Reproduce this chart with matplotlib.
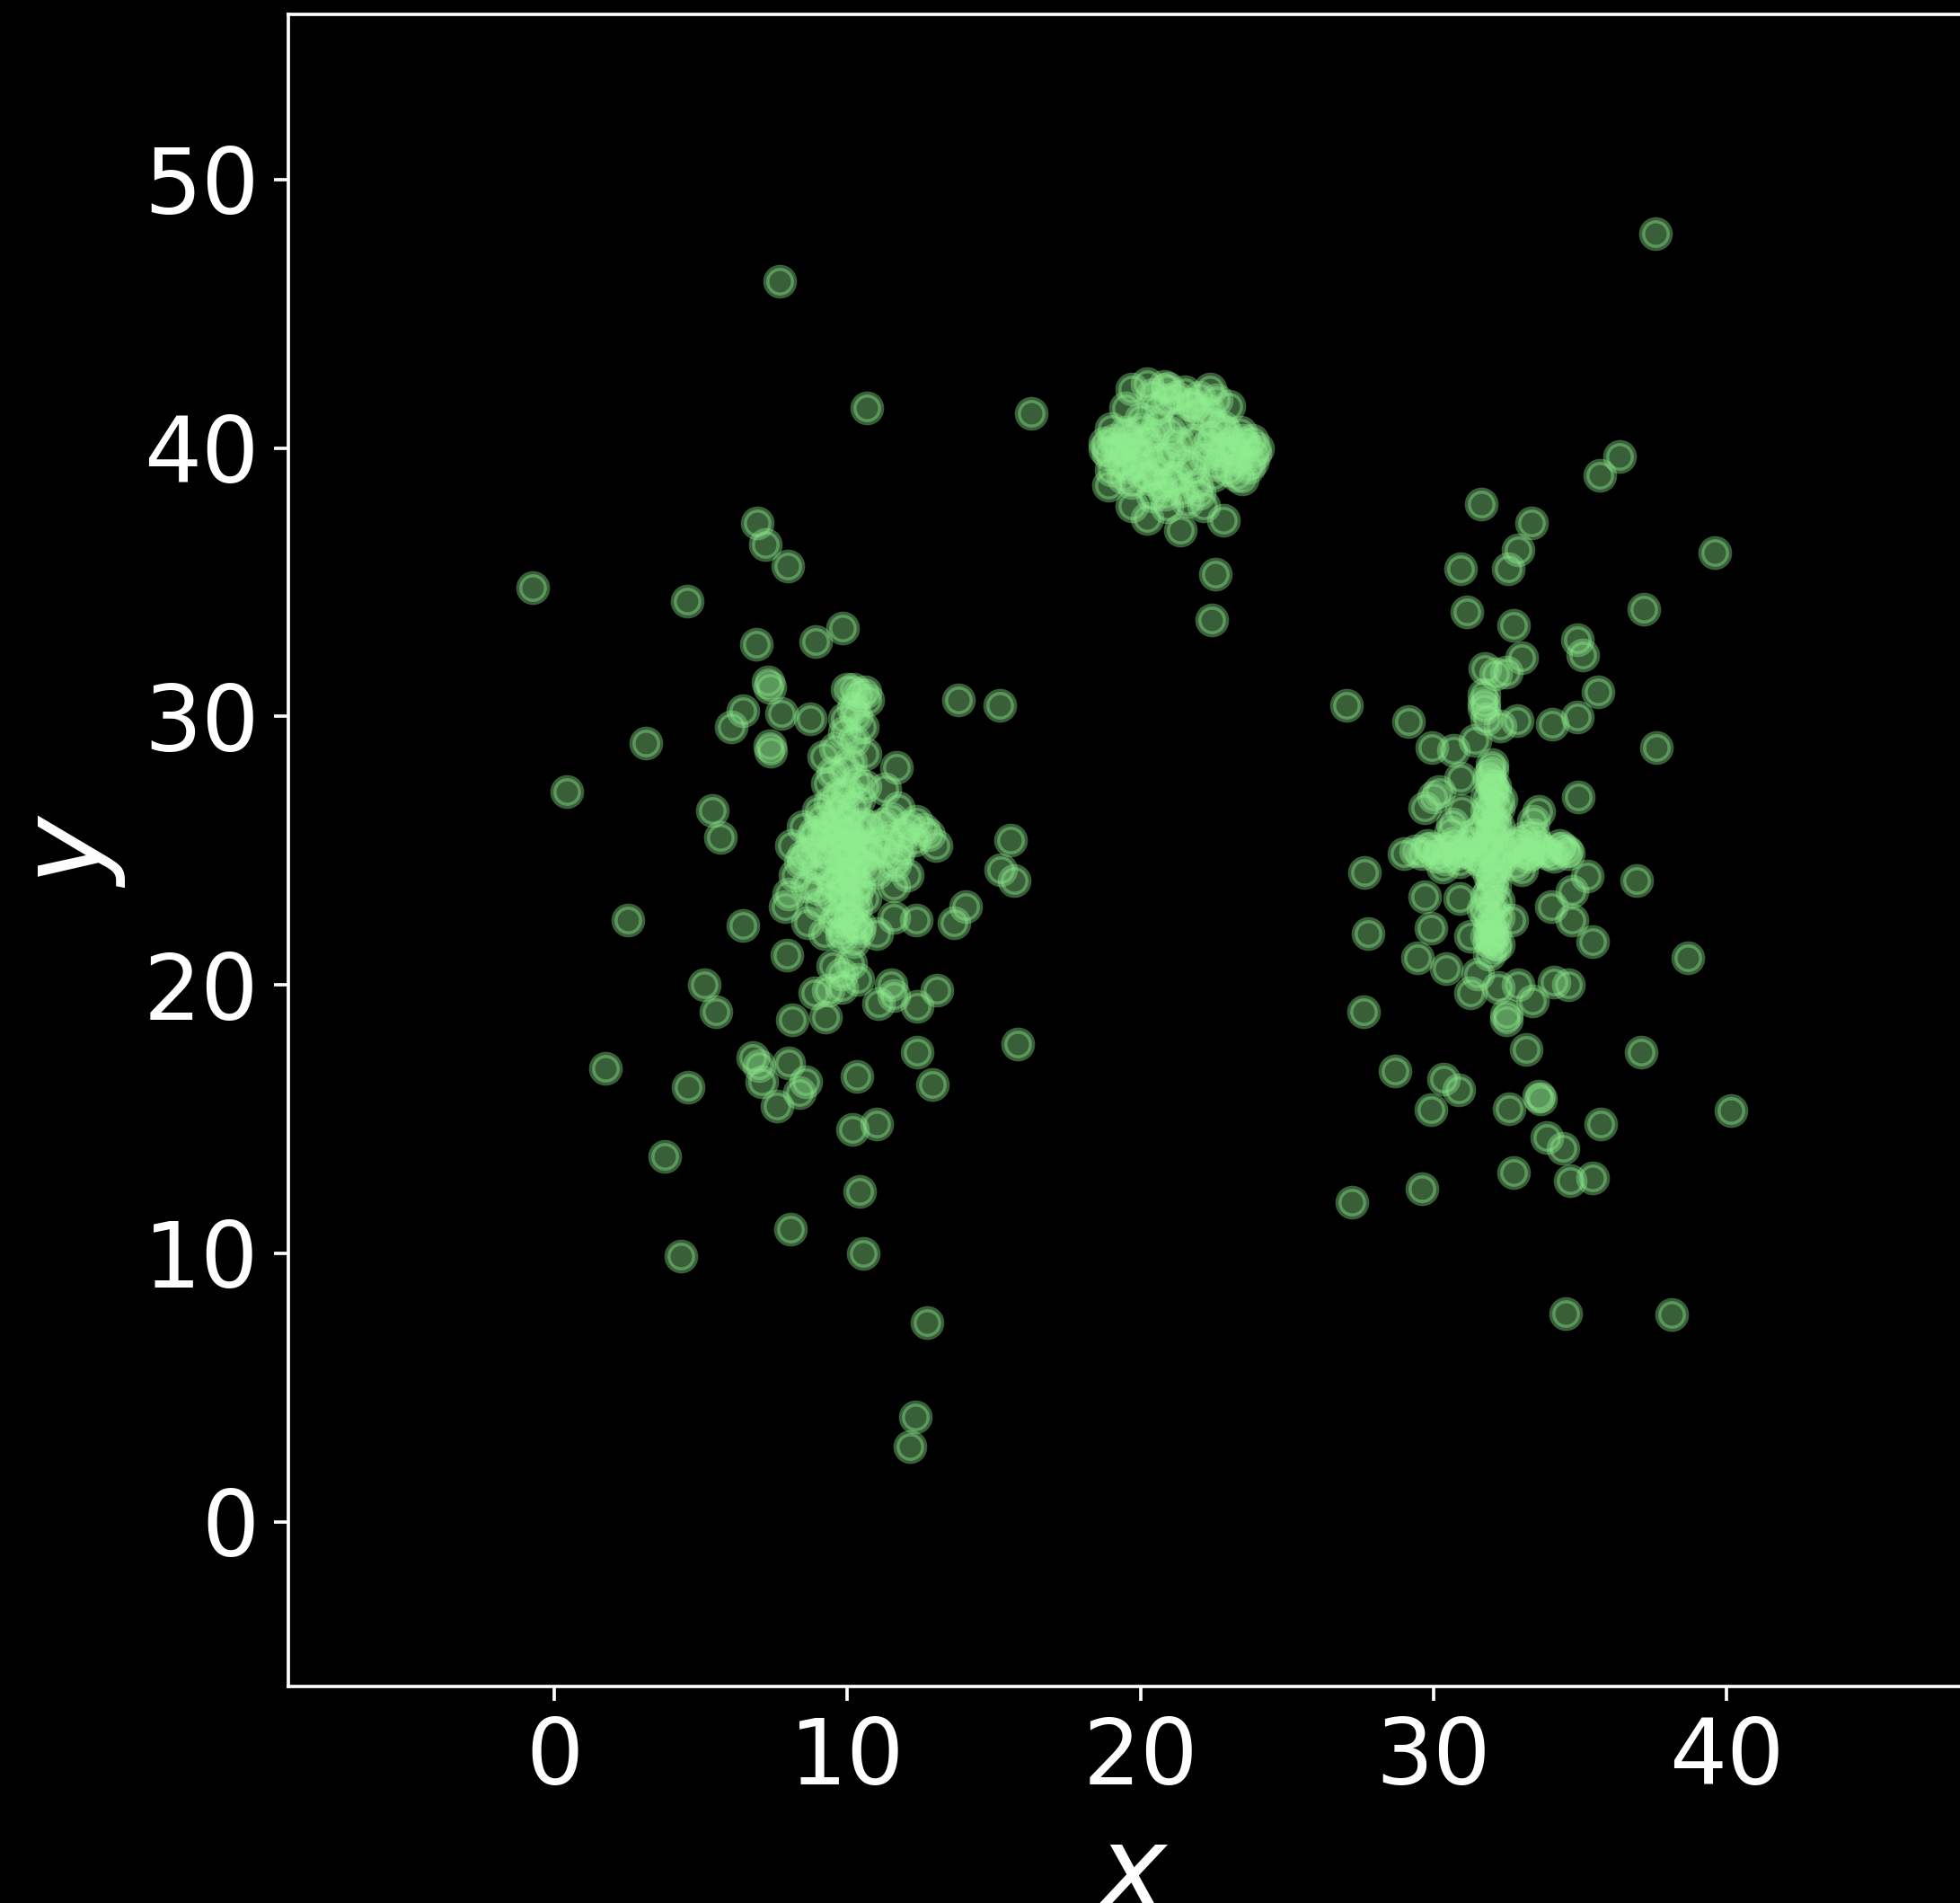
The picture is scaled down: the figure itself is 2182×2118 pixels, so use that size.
import numpy as np
import matplotlib.pyplot as plt

# left group (centre near x=10, y=25)
left_x = [-0.73, 0.43, 1.75, 2.52, 3.12, 3.76, 4.31, 4.52, 4.57, 5.12, 5.38, 5.5, 5.68,
          6.02, 6.44, 6.44, 6.78, 6.91, 6.89, 7.0, 7.07, 7.21, 7.3, 7.36, 7.35, 7.38,
          7.6, 7.68, 7.76, 7.94, 7.98, 8.07, 8.0, 8.13, 8.59, 8.36, 8.73, 8.93, 9.26,
          9.84, 10.33, 10.18, 11.0, 10.43, 10.67, 10.53, 11.06, 11.58, 11.68, 12.38,
          12.38, 12.31, 12.14, 12.73, 12.9, 13.05, 13.02, 12.35, 13.64, 13.8, 14.04,
          15.2, 15.22, 15.58, 15.7, 15.81, 16.26, 7.86, 11.5, 11.58, 11.28, 11.74,
          12.35, 12.77, 12.05, 11.58, 8.65, 9.23, 10.43, 11.0, 8.89, 9.35, 9.8, 10.35,
          9.5, 10.1, 9.8]
left_y = [34.8, 27.2, 16.9, 22.4, 29.0, 13.6, 9.9, 34.3, 16.2, 20.0, 26.5, 19.0, 25.5,
          29.6, 22.2, 30.2, 17.3, 37.2, 32.7, 17.0, 16.4, 36.4, 31.3, 31.1, 28.9, 28.7,
          15.5, 46.2, 30.1, 21.1, 35.6, 10.9, 17.1, 18.7, 16.4, 16.0, 29.9, 32.8, 18.8,
          33.3, 16.6, 14.6, 14.8, 12.3, 41.5, 10.0, 19.3, 19.6, 28.1, 19.2,
          17.5, 3.9, 2.8, 7.4, 16.3, 19.8, 25.2, 22.4, 22.3, 30.6, 22.9,
          30.4, 24.3, 25.4, 23.9, 17.8, 41.3, 22.9, 20.0, 22.5, 27.3, 26.6,
          26.1, 25.6, 24.1, 23.7, 22.3, 21.9, 22.2, 21.9, 19.7, 19.8, 19.9, 20.2,
          20.7, 20.8, 20.4]
left_core_x = [10.0, 10.4, 10.7, 10.2, 9.9, 10.5, 10.2, 9.6, 10.6, 9.2, 9.9, 10.3, 9.3,
               9.7, 10.4, 9.0, 9.6, 10.0, 9.8, 10.2, 9.9, 10.1, 10.3, 9.9, 10.2, 10.4,
               9.8, 10.0, 10.3, 10.1, 10.2, 9.8, 9.5, 9.3, 10.6, 10.5, 9.7, 10.7, 9.4,
               8.1, 8.5, 8.8, 9.1, 10.9, 11.3, 11.7, 11.9, 12.3, 12.6, 11.2, 11.5, 8.2,
               8.0, 8.6, 9.0, 8.4,
               9.6, 10.0, 10.4, 9.2, 8.9, 9.5, 10.6, 10.8, 9.1, 10.2, 9.7, 10.5, 9.0,
               10.0, 9.6, 10.4, 10.2, 9.8, 9.3, 8.7, 11.0, 11.4, 11.8, 12.1, 11.6, 9.4,
               10.0, 9.8, 10.6, 9.5, 10.1, 9.9, 10.3, 10.6, 10.2, 9.9, 10.3, 9.7, 10.8,
               9.3, 8.5, 8.9, 10.1, 9.8, 10.4]
left_core_y = [31.0, 30.8, 30.6, 30.3, 29.9, 29.6, 29.1, 28.8, 28.6, 28.5, 28.0, 27.6, 27.5,
               27.1, 26.9, 26.5, 26.4, 26.1, 25.7, 25.5, 25.2, 24.9, 24.6, 24.3, 24.0, 23.7,
               23.5, 23.2, 22.9, 22.6, 22.2, 22.0, 25.4, 24.8, 25.1, 26.0, 24.0, 24.3, 23.2,
               25.2, 24.8, 25.5, 25.0, 25.3, 25.0, 24.8, 25.6, 25.4, 25.8, 26.0, 26.2, 24.1,
               23.4, 23.7, 23.6, 24.6,
               26.0, 25.6, 25.8, 25.6, 24.4, 23.8, 23.2, 25.9, 26.2, 26.6, 25.1, 24.6, 23.0,
               22.5, 22.4, 22.0, 21.6, 21.8, 24.2, 25.0, 24.2, 25.5, 25.1, 25.9, 24.5, 26.8,
               27.2, 26.6, 27.4, 27.9, 28.3, 29.4, 30.0, 30.9, 31.0, 23.9, 23.4, 22.7, 24.9,
               25.9, 25.9, 25.7, 24.2, 24.7, 25.2]

# right group (centre near x=32, y=25)
right_x = [27.04, 27.2, 27.63, 27.6, 27.77, 28.69, 29.0, 29.16, 29.46, 29.6, 29.91, 29.95,
           29.91, 29.7, 30.34, 30.44, 30.85, 30.69, 30.93, 31.15, 31.26, 31.64, 31.75,
           32.13, 32.49, 31.72, 31.72, 31.72, 31.82, 32.28, 32.85, 32.56, 32.9, 33.0,
           32.74, 33.33, 32.5, 32.5, 32.2, 32.9, 33.36, 33.15, 32.74, 32.59, 33.6, 33.65,
           33.87, 34.06, 34.1, 34.6, 34.43, 34.52, 34.67, 35.44, 34.92, 35.09, 34.9,
           34.94, 35.25, 35.44, 34.73, 35.62, 35.68, 35.7, 36.36, 36.93, 37.09, 37.19,
           37.6, 37.56, 38.14, 38.67, 39.6, 40.15, 30.9, 31.26, 30.93, 31.42, 30.19,
           30.0, 29.7, 33.6, 33.4, 30.96, 30.65, 34.53, 34.02, 34.73, 32.68, 31.9, 31.5]
right_y = [30.4, 11.9, 24.2, 19.0, 21.9, 16.8, 24.9, 29.8, 21.0, 12.4, 15.35, 28.85,
           22.1, 23.3, 16.5, 20.6, 16.1, 28.74, 35.5, 33.9, 19.7, 37.9, 31.8,
           31.6, 31.65, 30.8, 30.5, 30.3, 29.9, 29.65, 29.86, 35.5, 36.2, 32.2,
           33.4, 37.2, 18.7, 18.9, 19.9, 20.0, 19.4, 17.6, 13.0, 15.4, 15.85, 15.75,
           14.3, 29.7, 20.1, 20.0, 13.9, 7.76, 12.7, 12.8, 32.85, 32.3, 29.99,
           27.0, 24.05, 21.6, 22.4, 30.9, 39.0, 14.8, 39.7, 23.9, 17.5, 34.0,
           28.85, 48.0, 7.73, 21.0, 36.1, 15.3, 23.2, 21.8, 27.7, 29.1, 27.2,
           27.0, 26.6, 26.45, 26.1, 26.5, 26.0, 25.0, 22.9, 23.5, 22.4, 21.15, 20.4]
right_core_x = [32.0, 31.9, 32.1, 31.8, 32.2, 31.9, 32.0, 32.1, 31.8, 32.0, 32.2, 31.9,
                32.1, 31.8, 32.0, 32.2, 31.9, 32.0, 32.1, 31.7,
                29.4, 29.8, 30.1, 30.5, 30.8, 31.2, 31.5, 32.5, 32.9, 33.2, 33.6, 33.9,
                34.3, 34.6, 30.3, 33.0, 33.4, 30.6,
                32.0, 31.9, 32.1, 32.0, 31.8, 32.1, 31.9, 32.2, 31.7, 32.1, 32.0, 31.9,
                32.2, 31.8, 32.0, 32.1, 31.9, 32.2, 31.8, 32.0, 32.3, 31.7,
                29.6, 29.9, 30.2, 30.4, 30.7, 31.0, 31.3, 31.6, 32.4, 32.7, 33.0, 33.3,
                33.5, 33.8, 34.1, 34.4, 30.9, 33.1, 31.4, 32.8]
right_core_y = [28.2, 27.8, 27.4, 27.0, 26.6, 26.3, 25.9, 25.5, 25.2, 24.8, 24.5, 24.1,
                23.7, 23.3, 22.9, 22.5, 22.1, 21.7, 21.4, 22.8,
                25.0, 25.2, 24.8, 25.1, 24.9, 25.3, 24.7, 25.0, 25.3, 24.8, 25.1, 24.9,
                25.2, 24.9, 24.4, 24.3, 25.6, 25.7,
                28.0, 27.6, 27.2, 26.8, 26.5, 26.1, 25.7, 25.9, 24.5, 24.3, 23.9, 23.5,
                23.1, 22.6, 22.3, 21.9, 21.6, 21.5, 21.8, 27.4, 26.9, 25.9,
                24.9, 25.1, 25.0, 24.7, 25.3, 25.0, 24.9, 25.1, 24.8, 25.2, 25.0, 24.9,
                25.3, 25.0, 24.8, 25.1, 24.6, 25.5, 25.6, 24.5]

# upper group (centre near x=21, y=40)
top_x = [20.23, 19.71, 20.94, 22.37, 23.03, 19.5, 19.0, 18.8, 18.9, 19.71, 20.23, 21.35,
         22.83, 22.17, 23.8, 23.8, 23.49, 21.66, 20.33, 20.84, 22.55, 22.42,
         19.4, 19.9, 19.6, 20.2, 20.6, 20.1, 21.0, 21.4, 21.8, 22.3, 22.7, 23.1, 23.3,
         22.8, 22.0, 21.2, 20.6, 20.0, 21.5, 21.0, 21.9, 22.5, 20.6,
         18.9, 19.1, 19.3, 19.0, 19.5, 19.8, 19.4, 19.9, 20.2, 19.7, 20.4, 18.8, 19.2,
         20.0, 19.6, 20.5, 20.9, 21.2, 20.7, 21.4, 21.8, 21.1, 20.4, 21.6, 22.0, 20.9,
         21.3, 22.4, 22.8, 23.2, 23.6, 23.9, 22.6, 23.0, 23.4, 22.9, 23.7, 22.2, 24.0,
         23.3, 22.5, 23.5, 20.4, 20.9, 21.5, 22.0, 22.6, 21.8, 20.8, 22.3]
top_y = [42.41, 42.2, 42.24, 42.2, 41.57, 41.5, 40.74, 39.96, 38.6, 37.84, 37.39, 36.94,
         37.3, 37.84, 40.3, 39.5, 38.84, 41.63, 38.84, 38.28, 35.3, 33.6,
         40.0, 39.8, 39.3, 40.3, 39.6, 39.0, 40.6, 41.0, 40.3, 40.1, 39.8, 40.2, 39.6,
         40.8, 41.3, 41.9, 41.5, 41.1, 39.5, 38.8, 38.6, 39.0, 40.9,
         39.8, 40.3, 39.5, 39.2, 40.6, 40.1, 38.9, 39.4, 39.8, 38.7, 40.5, 40.2, 40.0,
         40.7, 40.4, 39.1, 39.6, 38.9, 38.6, 38.4, 39.2, 39.9, 38.2, 38.0, 38.3, 37.8,
         40.2, 40.4, 40.0, 39.9, 40.1, 39.8, 39.4, 39.2, 40.6, 40.6, 39.3, 39.7, 40.0,
         39.0, 40.9, 40.3, 42.0, 41.8, 42.1, 41.9, 41.8, 41.6, 42.3, 41.4]

x = np.concatenate([left_x, left_core_x, right_x, right_core_x, top_x])
y = np.concatenate([left_y, left_core_y, right_y, right_core_y, top_y])

plt.style.use("dark_background")
fig = plt.figure(figsize=(2182 / 330, 2118 / 330), dpi=330)
ax = fig.add_axes([0.1469, 0.1138, 0.8611, 0.8787])
ax.scatter(x, y, s=45, color="lightgreen", alpha=0.4, linewidths=1.5)
ax.set_xlim(-9.09, 48.5)
ax.set_ylim(-6.14, 56.16)
ax.set_xticks([0, 10, 20, 30, 40])
ax.set_yticks([0, 10, 20, 30, 40, 50])
ax.tick_params(labelsize=22)
ax.set_xlabel("$x$", fontsize=28)
ax.set_ylabel("$y$", fontsize=28)
fig.savefig("out.png", dpi=330)
